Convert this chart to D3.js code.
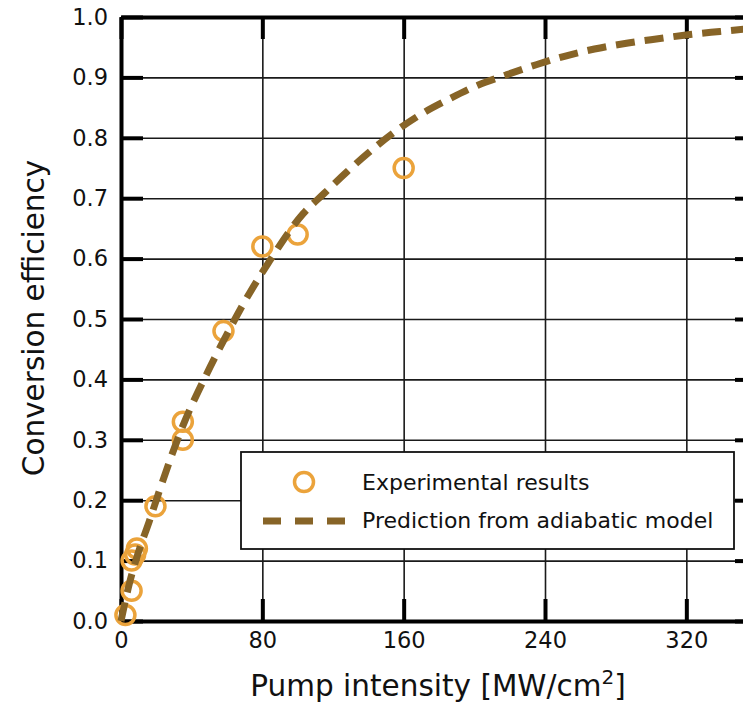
<!DOCTYPE html>
<html>
<head>
<meta charset="utf-8">
<script src="https://cdn.jsdelivr.net/npm/d3@7"></script>
<style>
  body { margin: 0; background: #fff; overflow: hidden; }
  text { font-family: "DejaVu Sans", sans-serif; fill: #111; }
</style>
</head>
<body>
<div id="my_dataviz"></div>
<script>
// experimental points
var expIntensity = [2.5, 6, 6, 8, 9, 19.5, 35, 35, 58, 80, 100, 160];
var expEfficiency = [0.01, 0.05, 0.10, 0.11, 0.12, 0.19, 0.30, 0.33, 0.48, 0.62, 0.64, 0.75];

// adiabatic model curve
var modelIntensity = [0, 5, 10, 16, 22, 35, 48, 60, 73, 83, 103, 115, 128, 140, 156, 171, 185, 202, 218, 235, 251, 268, 287, 304, 322, 339, 353, 360];
var modelEfficiency = [0, 0.065, 0.115, 0.165, 0.218, 0.323, 0.406, 0.475, 0.544, 0.591, 0.674, 0.708, 0.744, 0.775, 0.812, 0.841, 0.863, 0.887, 0.904, 0.921, 0.935, 0.947, 0.957, 0.964, 0.971, 0.976, 0.980, 0.982];

var xTicks = [0, 80, 160, 240, 320];
var yTicks = [0, 0.1, 0.2, 0.3, 0.4, 0.5, 0.6, 0.7, 0.8, 0.9, 1.0];
var legendLabels = ["Experimental results", "Prediction from adiabatic model"];

var circleColor = "#eba33b",
  lineColor = "#876427";

// set the dimensions and margins of the graph
var margin = { top: 17, right: -14, bottom: 83, left: 121 },
  width = 743 - margin.left - margin.right,
  height = 704 - margin.top - margin.bottom;

var root = d3.select("#my_dataviz")
  .append("svg")
  .attr("width", 743)
  .attr("height", 704)
  .style("display", "block");

var svg = root.append("g")
  .attr("transform", "translate(" + margin.left + "," + margin.top + ")");

var x = d3.scaleLinear().domain([0, 360]).range([0, width]);
var y = d3.scaleLinear().domain([0, 1]).range([height, 0]);

// grid lines
svg.append("g")
  .attr("class", "grid")
  .attr("transform", "translate(0," + height + ")")
  .call(d3.axisBottom(x).tickValues(xTicks.slice(1)).tickSize(-height).tickFormat(""))
  .call(g => g.select(".domain").remove());
svg.append("g")
  .attr("class", "grid")
  .call(d3.axisLeft(y).tickValues(yTicks.slice(1, -1)).tickSize(-width).tickFormat(""))
  .call(g => g.select(".domain").remove());
svg.selectAll(".grid line").attr("stroke", "#1a1a1a").attr("stroke-width", 1.6);

// axes with inward ticks
var fmt = d3.format(".1f");
var axLeft = svg.append("g")
  .call(d3.axisLeft(y).tickValues(yTicks).tickSize(-22).tickSizeOuter(0).tickPadding(13).tickFormat(fmt));
var axRight = svg.append("g")
  .attr("transform", "translate(" + width + ",0)")
  .call(d3.axisRight(y).tickValues(yTicks).tickSize(-22).tickSizeOuter(0).tickFormat(""));
var axBottom = svg.append("g")
  .attr("transform", "translate(0," + height + ")")
  .call(d3.axisBottom(x).tickValues(xTicks).tickSize(-22).tickSizeOuter(0).tickPadding(11));
var axTop = svg.append("g")
  .call(d3.axisTop(x).tickValues(xTicks).tickSize(-22).tickSizeOuter(0).tickFormat(""));

[axLeft, axRight, axBottom, axTop].forEach(function (g) {
  g.select(".domain").attr("stroke", "#000").attr("stroke-width", 4);
  g.selectAll(".tick line").attr("stroke", "#000").attr("stroke-width", 4);
  g.selectAll(".tick text")
    .style("font-family", "'DejaVu Sans', sans-serif")
    .style("font-size", "22.5px")
    .attr("fill", "#111");
});

// experimental circles
svg.selectAll("circle.exp")
  .data(expIntensity.map(function (d, i) { return [d, expEfficiency[i]]; }))
  .enter()
  .append("circle")
  .attr("class", "exp")
  .attr("cx", function (d) { return x(d[0]); })
  .attr("cy", function (d) { return y(d[1]); })
  .attr("r", 9.5)
  .attr("fill", "none")
  .attr("stroke", circleColor)
  .attr("stroke-width", 3.5);

// model curve
var line = d3.line()
  .x(function (d) { return x(d[0]); })
  .y(function (d) { return y(d[1]); })
  .curve(d3.curveMonotoneX);
svg.append("path")
  .datum(modelIntensity.map(function (d, i) { return [d, modelEfficiency[i]]; }))
  .attr("d", line)
  .attr("fill", "none")
  .attr("stroke", lineColor)
  .attr("stroke-width", 7)
  .attr("stroke-dasharray", "19,10");

// legend
var legend = svg.append("g").attr("transform", "translate(120,435)");
legend.append("rect")
  .attr("width", 493).attr("height", 97)
  .attr("fill", "#fff").attr("stroke", "#111").attr("stroke-width", 1.8);
legend.append("circle")
  .attr("cx", 63).attr("cy", 30).attr("r", 9.5)
  .attr("fill", "none").attr("stroke", circleColor).attr("stroke-width", 3.5);
legend.append("line")
  .attr("x1", 22).attr("x2", 104).attr("y1", 69).attr("y2", 69)
  .attr("stroke", lineColor).attr("stroke-width", 7).attr("stroke-dasharray", "18,14");
legend.selectAll("text.leg")
  .data(legendLabels).enter()
  .append("text")
  .attr("class", "leg")
  .attr("x", 121)
  .attr("y", function (d, i) { return 38 + i * 38; })
  .style("font-size", "22px")
  .text(function (d) { return d; });

// axis titles
root.append("text")
  .attr("transform", "translate(44,318) rotate(-90)")
  .attr("text-anchor", "middle")
  .style("font-size", "29.5px")
  .text("Conversion efficiency");

var xt = root.append("text")
  .attr("x", 438).attr("y", 696)
  .attr("text-anchor", "middle")
  .style("font-size", "29.5px");
xt.append("tspan").text("Pump intensity [MW/cm");
xt.append("tspan").attr("dy", -12).style("font-size", "20px").text("2");
xt.append("tspan").attr("dy", 12).text("]");
</script>
</body>
</html>
